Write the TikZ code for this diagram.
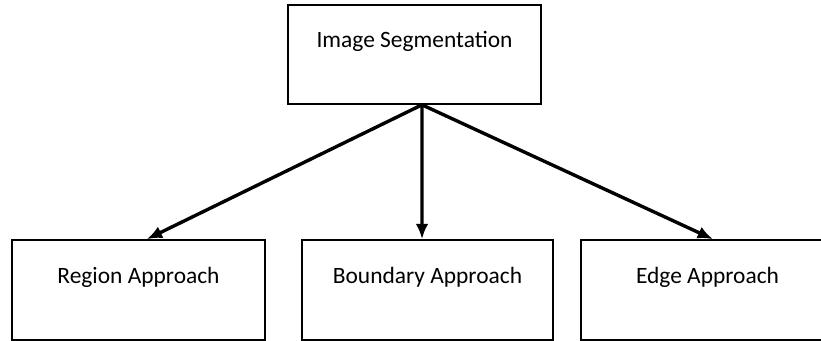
\documentclass[tikz,border=0pt]{standalone}
\usepackage{fontspec}
\setmainfont{Carlito}
\usepackage{tikz}
\usetikzlibrary{arrows.meta}

\begin{document}
\begin{tikzpicture}[
		box/.style={draw, line width=1.4pt, rectangle, minimum height=3cm,
			text height=0.5cm, text depth=0.91cm, font=\fontsize{20}{24}\selectfont},
		arr/.style={line width=2.9pt, -{Latex[length=4.6mm,width=3.8mm]}}]
		\useasboundingbox (0,0) rectangle (24.63,-10.23);
		\clip (0,0) rectangle (24.63,-10.23);
		\node[box, minimum width=7.59cm, minimum height=2.97cm] (seg) at (12.435,-1.635) {Image Segmentation};
		\node[box, minimum width=7.59cm] (reg) at (4.155,-8.7) {Region Approach};
		\node[box, minimum width=7.53cm] (bnd) at (12.825,-8.7) {Boundary Approach};
		\node[box, minimum width=7.59cm] (edg) at (21.225,-8.7) {Edge Approach};
		\coordinate (fork) at ([xshift=0.225cm]seg.south);
		\path[arr]
		(fork) edge ([xshift=0.25cm]reg.north)
		(fork) edge ([xshift=-0.165cm]bnd.north)
		(fork) edge ([xshift=0.165cm]edg.north)
		;
	\end{tikzpicture}
\end{document}
